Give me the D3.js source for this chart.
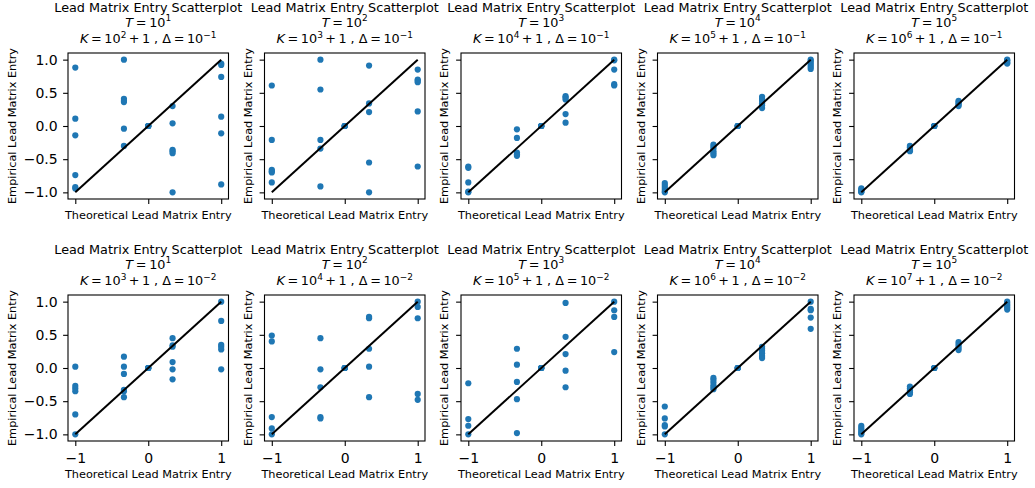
<!DOCTYPE html>
<html>
<head>
<meta charset="utf-8">
<script src="https://cdn.jsdelivr.net/npm/d3@7"></script>
<style>
  html, body { margin: 0; padding: 0; background: #fff; }
  svg { display: block; }
  text { font-family: "DejaVu Sans", sans-serif; }
</style>
</head>
<body>
<svg id="chart" width="1035" height="488"></svg>
<script>
// ---------------- DATA ----------------
const theoretical = [-1, -0.3333, 0, 0.3333, 1];
const tickValuesY = [-1, -0.5, 0, 0.5, 1];
const tickValuesX = [-1, 0, 1];
const titleText = "Lead Matrix Entry Scatterplot";
const xLabelText = "Theoretical Lead Matrix Entry";
const yLabelText = "Empirical Lead Matrix Entry";
const tExponents = [1, 2, 3, 4, 5, 1, 2, 3, 4, 5];
const kExponents = [2, 3, 4, 5, 6, 3, 4, 5, 6, 7];
const deltaExponents = [-1, -1, -1, -1, -1, -2, -2, -2, -2, -2];

// empirical values, one list per theoretical value (-1, -1/3, 0, 1/3, 1)
const empT1K2 = [
  [0.88, 0.11, -0.14, -0.74, -0.92, -0.94],
  [1.0, 0.41, 0.38, 0.36, -0.04, -0.30],
  [0, 0, 0, 0, 0],
  [0.30, 0.04, -0.36, -0.38, -0.41, -1.0],
  [0.94, 0.92, 0.74, 0.14, -0.11, -0.88]
];
const empT2K3 = [
  [0.61, -0.21, -0.66, -0.68, -0.70, -0.85],
  [1.0, 0.55, -0.21, -0.34, -0.91],
  [0, 0, 0, 0, 0],
  [0.91, 0.34, 0.21, -0.55, -1.0],
  [0.85, 0.70, 0.68, 0.66, 0.22, -0.61]
];
const empT3K4 = [
  [-0.61, -0.63, -0.85, -0.99, -1.0],
  [-0.05, -0.18, -0.40, -0.43, -0.45],
  [0, 0, 0, 0, 0],
  [0.45, 0.43, 0.40, 0.18, 0.05],
  [1.0, 0.99, 0.85, 0.63, 0.61]
];
const empT4K5 = [
  [-0.86, -0.89, -0.92, -0.95, -0.98, -1.0],
  [-0.28, -0.31, -0.34, -0.38, -0.41, -0.44],
  [0, 0, 0, 0, 0],
  [0.44, 0.41, 0.38, 0.34, 0.31, 0.27],
  [1.0, 0.98, 0.95, 0.92, 0.89, 0.86]
];
const empT5K6 = [
  [-0.94, -0.96, -0.98, -0.99, -1.0],
  [-0.30, -0.32, -0.35, -0.37, -0.38],
  [0, 0, 0, 0, 0],
  [0.38, 0.36, 0.34, 0.32, 0.30],
  [1.0, 0.99, 0.97, 0.95, 0.94]
];
const empT1K3 = [
  [0.02, -0.27, -0.31, -0.35, -0.70, -1.0],
  [0.17, 0.02, -0.09, -0.33, -0.35, -0.44],
  [0, 0, 0, 0, 0],
  [0.45, 0.34, 0.32, 0.09, -0.02, -0.17],
  [1.0, 0.71, 0.35, 0.32, 0.28, -0.02]
];
const empT2K4 = [
  [0.49, 0.40, -0.74, -0.91, -1.0],
  [0.45, -0.02, -0.29, -0.74, -0.76],
  [0, 0, 0, 0, 0],
  [0.77, 0.75, 0.29, 0.02, -0.44],
  [1.0, 0.92, 0.75, -0.39, -0.48]
];
const empT3K5 = [
  [-0.23, -0.77, -0.87, -1.0],
  [0.29, 0.05, -0.21, -0.47, -0.98],
  [0, 0, 0, 0, 0],
  [0.98, 0.47, 0.21, -0.04, -0.29],
  [1.0, 0.87, 0.77, 0.24]
];
const empT4K6 = [
  [-0.58, -0.76, -0.86, -0.88, -1.0],
  [-0.15, -0.18, -0.22, -0.26, -0.29, -0.32],
  [0, 0, 0, 0, 0],
  [0.32, 0.29, 0.26, 0.22, 0.18, 0.15],
  [1.0, 0.89, 0.87, 0.76, 0.59]
];
const empT5K7 = [
  [-0.87, -0.90, -0.93, -0.96, -0.98, -1.0],
  [-0.28, -0.31, -0.34, -0.37, -0.39],
  [0, 0, 0, 0, 0],
  [0.39, 0.36, 0.33, 0.30, 0.27],
  [1.0, 0.97, 0.94, 0.91, 0.88]
];
const panelData = [empT1K2, empT2K3, empT3K4, empT4K5, empT5K6,
                   empT1K3, empT2K4, empT3K5, empT4K6, empT5K7];

// ---------------- LAYOUT ----------------
const svg = d3.select("#chart");
svg.append("rect").attr("width", 1035).attr("height", 488).attr("fill", "#fff");

const FONT = "DejaVu Sans";
const titleSize = 12.8, labelSize = 11.3, tickSize = 14;
const tickLen = 4.9;
const panelW = 160.5, panelH = 146;
const colStep = 196.5, rowStep = 242;
const left0 = 68, top0 = 53;
const dotColor = "#1f77b4";

function addMath(textSel, parts, size) {
  // parts: [text, kind] kind: 'n' normal, 'i' italic, 's' superscript, 'sp' spacer(dx)
  const supShift = size * 0.40;
  parts.forEach(p => {
    const [txt, kind, dx] = p;
    const ts = textSel.append("tspan").text(txt);
    if (dx) ts.attr("dx", dx);
    if (kind === "i") ts.attr("font-style", "italic");
    if (kind === "s") {
      ts.attr("font-size", size * 0.7).attr("dy", -supShift);
      // next tspan resets
    }
    if (kind === "r") {
      ts.attr("dy", supShift);
    }
  });
}

panelData.forEach((data, idx) => {
  const row = Math.floor(idx / 5), col = idx % 5;
  const L = left0 + col * colStep, T = top0 + row * rowStep;
  const x = d3.scaleLinear().domain([-1.1, 1.1]).range([L, L + panelW]);
  const y = d3.scaleLinear().domain([-1.1, 1.1]).range([T + panelH, T]);
  const g = svg.append("g");

  // points
  const pts = [];
  data.forEach((vals, i) => vals.forEach(v => pts.push([theoretical[i], v])));
  g.selectAll("circle").data(pts).join("circle")
    .attr("cx", d => x(d[0])).attr("cy", d => y(d[1]))
    .attr("r", 3.1).attr("fill", dotColor);

  // diagonal line
  const line = d3.line().x(d => x(d[0])).y(d => y(d[1]));
  g.append("path").datum([[theoretical[0], theoretical[0]], [theoretical[4], theoretical[4]]])
    .attr("d", line).attr("stroke", "#000").attr("stroke-width", 2).attr("fill", "none");

  // frame
  g.append("rect").attr("x", L).attr("y", T).attr("width", panelW).attr("height", panelH)
    .attr("fill", "none").attr("stroke", "#000").attr("stroke-width", 1.1);

  // y axis
  const ya = g.append("g").attr("transform", `translate(${L},0)`)
    .call(d3.axisLeft(y).tickValues(tickValuesY).tickSize(tickLen).tickPadding(5.4)
      .tickFormat(col === 0 ? d3.format(".1f") : () => ""));
  ya.select(".domain").remove();
  ya.selectAll("line").attr("stroke", "#000").attr("stroke-width", 1.1);
  ya.selectAll("text").attr("font-family", FONT).attr("font-size", tickSize).attr("fill", "#000");
  ya.attr("font-family", FONT);

  // x axis
  const xa = g.append("g").attr("transform", `translate(0,${T + panelH})`)
    .call(d3.axisBottom(x).tickValues(tickValuesX).tickSize(tickLen).tickPadding(7.2)
      .tickFormat(row === 1 ? d3.format("d") : () => ""));
  xa.select(".domain").remove();
  xa.selectAll("line").attr("stroke", "#000").attr("stroke-width", 1.1);
  xa.selectAll("text").attr("font-family", FONT).attr("font-size", tickSize).attr("fill", "#000");
  xa.attr("font-family", FONT);

  // x label
  const xlY = row === 0 ? T + panelH + 19.5 : T + panelH + 37.3;
  g.append("text").attr("x", L + panelW / 2).attr("y", xlY)
    .attr("text-anchor", "middle").attr("font-size", labelSize).attr("font-family", FONT)
    .text(xLabelText);

  // y label
  const ylX = col === 0 ? L - 52.5 : L - 12.8;
  g.append("text").attr("transform", `translate(${ylX},${T + panelH / 2}) rotate(-90)`)
    .attr("text-anchor", "middle").attr("font-size", labelSize).attr("font-family", FONT)
    .text(yLabelText);

  // titles
  const cx = L + panelW / 2;
  const tb = row * rowStep;
  g.append("text").attr("x", cx).attr("y", 11.5 + tb).attr("text-anchor", "middle")
    .attr("font-size", titleSize).attr("font-family", FONT).text(titleText);

  const t2 = g.append("text").attr("x", cx).attr("y", 26.5 + tb).attr("text-anchor", "middle")
    .attr("font-size", titleSize).attr("font-family", FONT);
  addMath(t2, [["T", "i"], ["=", "n", 2.6], ["10", "n", 2.6], [String(tExponents[idx]), "s"]], titleSize);

  const t3 = g.append("text").attr("x", cx).attr("y", 43 + tb).attr("text-anchor", "middle")
    .attr("font-size", titleSize).attr("font-family", FONT);
  addMath(t3, [["K", "i"], ["=", "n", 2.6], ["10", "n", 2.6], [String(kExponents[idx]), "s"],
               ["+", "r", 2.4], ["1", "n", 2.4], [" ,  ", "n"], ["Δ", "n"], ["=", "n", 2.6], ["10", "n", 2.6],
               ["\u2212" + String(-deltaExponents[idx]), "s"]], titleSize);
});
</script>
</body>
</html>
